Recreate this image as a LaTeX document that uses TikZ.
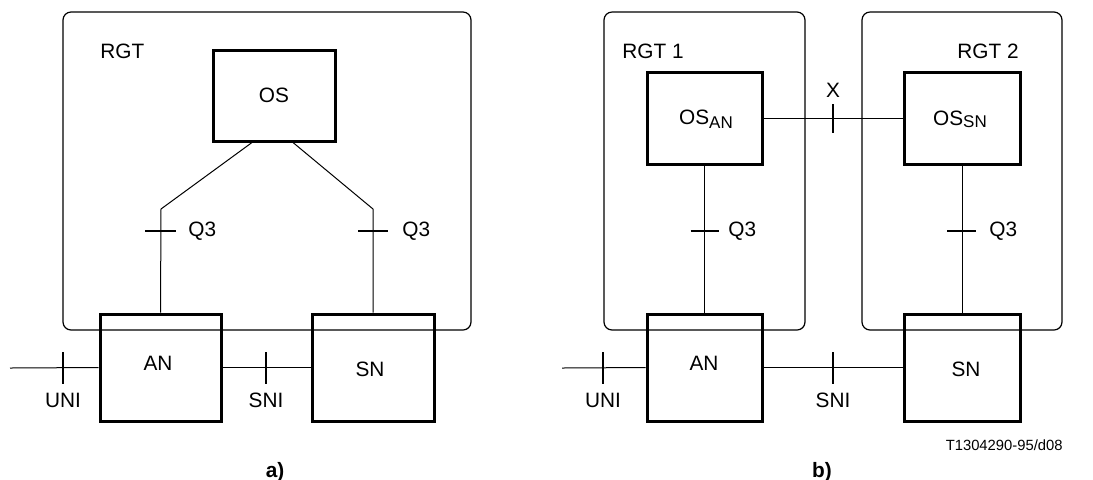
\documentclass[tikz,border=0pt]{standalone}
\usepackage{fontspec}
\setmainfont{Liberation Sans}
\usetikzlibrary{positioning}

\tikzset{
  unitbox/.style={draw, line width=1.5pt, inner sep=0pt},
  rgtframe/.style={draw, line width=0.6pt, rounded corners=4pt},
  link/.style={line width=0.5pt},
  tickmark/.style={line width=1pt},
  lbl/.style={inner sep=0pt, font=\fontsize{10.4}{12}\selectfont}
}
\newcommand{\subs}[2]{OS\raisebox{#1}{\fontsize{8.5}{10}\selectfont #2}}

\begin{document}
\begin{tikzpicture}[x=0.5pt,y=-0.5pt]
			\useasboundingbox (0,0) rectangle (1093,479);
			% a)
			\draw[rgtframe](63,12) rectangle (471,330);
			\node[lbl, anchor=west] (rgt) at (100,51) {RGT};
			\node[unitbox, minimum width=61pt, minimum height=45.5pt, lbl] (os) at (274,95.5) {OS};
			\node[unitbox, minimum width=60.5pt, minimum height=53.5pt] (an) at (160.5,367.5) {};
			\node[unitbox, minimum width=61pt, minimum height=53.5pt] (sn) at (373,367.5) {};
			\node[lbl] at (158,363) {AN};
			\node[lbl] at (370,369) {SN};
			\draw[link]([xshift=-11pt]os.south) -- (161,209) -- (an.north);
			\draw[link]([xshift=9.5pt]os.south) -- (373,209) -- (sn.north);
			\coordinate (qa) at (161,231);
			\coordinate (qb) at (373,231);
			\draw[tickmark]([xshift=-8pt]qa) -- ([xshift=7.5pt]qa);
			\draw[tickmark]([xshift=-7.5pt]qb) -- ([xshift=7.5pt]qb);
			\node[lbl, anchor=west] at (188,231) {Q3};
			\node[lbl, anchor=west] at (402,231) {Q3};
			\coordinate (ua) at (10,368);
			\draw[link](ua) -- (an.west);
			\draw[link](an.east) -- (sn.west);
			\draw[tickmark](63,352) -- (63,384);
			\draw[tickmark](266,352) -- (266,384);
			\node[lbl] at (63,400) {UNI};
			\node[lbl] at (266,400) {SNI};
			\node[lbl, font=\bfseries\fontsize{10.4}{12}\selectfont] at (275,472) {a)};
			% b)
			\draw[rgtframe](604,12) rectangle (805,330);
			\draw[rgtframe](862,12) rectangle (1062,330);
			\node[lbl, anchor=west] at (622,51) {RGT 1};
			\node[lbl, anchor=east] at (1019,51) {RGT 2};
			\node[unitbox, minimum width=57.5pt, minimum height=46pt] (osan) at (704.5,118) {};
			\node[unitbox, minimum width=58pt, minimum height=46pt] (ossn) at (962,118) {};
			\node[lbl] at (706,119) {\subs{-0.35ex}{AN}};
			\node[lbl] at (960,119) {\subs{-0.15ex}{SN}};
			\node[unitbox, minimum width=57.5pt, minimum height=53.5pt] (anb) at (704.5,367.5) {};
			\node[unitbox, minimum width=58pt, minimum height=53.5pt] (snb) at (962,367.5) {};
			\node[lbl] at (704,363) {AN};
			\node[lbl] at (966,369) {SN};
			\draw[link](osan.east) -- (ossn.west);
			\draw[tickmark](833,104) -- (833,133);
			\node[lbl] at (833,90) {X};
			\draw[link](osan.south) -- (anb.north);
			\draw[link](ossn.south) -- (snb.north);
			\coordinate (qc) at (704.5,231);
			\coordinate (qd) at (962,231);
			\draw[tickmark]([xshift=-7pt]qc) -- ([xshift=7pt]qc);
			\draw[tickmark]([xshift=-7.5pt]qd) -- ([xshift=7pt]qd);
			\node[lbl, anchor=west] at (728,231) {Q3};
			\node[lbl, anchor=west] at (989,231) {Q3};
			\coordinate (ub) at (562,368);
			\draw[link](ub) -- (anb.west);
			\draw[link](anb.east) -- (snb.west);
			\draw[tickmark](603,352) -- (603,384);
			\draw[tickmark](833,352) -- (833,384);
			\node[lbl] at (603,400) {UNI};
			\node[lbl] at (833,400) {SNI};
			\node[lbl, anchor=east, font=\fontsize{7.4}{9}\selectfont] at (1063,445) {T1304290-95/d08};
			\node[lbl, font=\bfseries\fontsize{10.4}{12}\selectfont] at (822,472) {b)};
		\end{tikzpicture}
\end{document}
